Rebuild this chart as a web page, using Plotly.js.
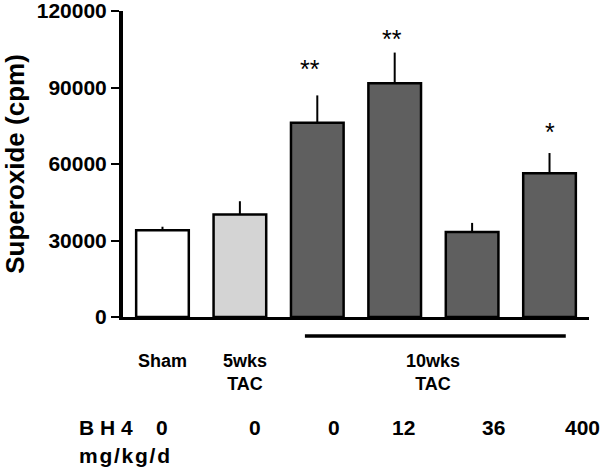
<!DOCTYPE html>
<html>
<head>
<meta charset="utf-8">
<script src="https://cdn.plot.ly/plotly-3.0.1.min.js"></script>
<style>html,body{margin:0;padding:0;background:#fff;}#chart{width:600px;height:468px;}</style>
</head>
<body>
<div id="chart"></div>
<script>
// ---- data ----
const groups = [0, 1, 2, 3, 4, 5];
const superoxide = [34000, 40200, 76200, 91700, 33300, 56400];
const sem = [1400, 5200, 10700, 12000, 3600, 7900];
const barColors = ['#ffffff', '#d4d4d4', '#5f5f5f', '#5f5f5f', '#5f5f5f', '#5f5f5f'];
const significance = ['', '', '**', '**', '', '*'];
const groupLabels = ['Sham', '5wks<br>TAC', '10wks<br>TAC'];
const bh4Doses = ['0', '0', '0', '12', '36', '400'];
const yTicks = [0, 30000, 60000, 90000, 120000];

const FONT = 'Liberation Sans, Arial, Helvetica, sans-serif';
const b = s => '<b>' + s + '</b>';
const HS = '\u200A';

const trace = {
  type: 'bar',
  x: groups,
  y: superoxide,
  marker: { color: barColors, line: { color: '#000', width: 2.5 } },
  error_y: {
    type: 'data', symmetric: false, array: sem,
    arrayminus: sem.map(() => 0),
    color: '#000', thickness: 2, width: 0
  },
  hoverinfo: 'skip'
};

const annotations = [];
// significance stars (pixel offsets are styling only)
const starYShift = [0, 0, 26, 14, 0, 21];
const starXShift = [0, 0, -7, -3, 0, 0];
groups.forEach((g, i) => {
  if (significance[i]) {
    annotations.push({
      x: g, y: superoxide[i] + sem[i], xref: 'x', yref: 'y',
      text: significance[i], showarrow: false, yanchor: 'middle',
      yshift: starYShift[i], xshift: starXShift[i],
      font: { family: FONT, size: 25, color: '#000' }
    });
  }
});
// group labels
const groupPos = [0, 1.07, 3.5];
groupLabels.forEach((t, i) => {
  annotations.push({
    x: groupPos[i], y: -0.105, xref: 'x', yref: 'paper', yanchor: 'top',
    text: b(t), showarrow: false,
    font: { family: FONT, size: 18, color: '#000' }
  });
});
// BH4 doses
const dosePos = [-0.01, 1.19, 2.21, 3.11, 4.27, 5.43];
bh4Doses.forEach((t, i) => {
  annotations.push({
    x: dosePos[i], y: -0.36, xref: 'x', yref: 'paper', yanchor: 'middle',
    text: b(t), showarrow: false,
    font: { family: FONT, size: 21, color: '#000' }
  });
});
annotations.push({
  x: -0.099, y: -0.36, xref: 'paper', yref: 'paper', xanchor: 'left', yanchor: 'middle',
  text: b('B H 4'), showarrow: false,
  font: { family: FONT, size: 21, color: '#000' }
});
annotations.push({
  x: -0.099, y: -0.452, xref: 'paper', yref: 'paper', xanchor: 'left', yanchor: 'middle',
  text: b('mg/kg/d'.split('').join(HS)), showarrow: false,
  font: { family: FONT, size: 21, color: '#000' }
});

const layout = {
  width: 600, height: 468,
  margin: { l: 123, r: 11, t: 11, b: 151 },
  paper_bgcolor: '#fff', plot_bgcolor: '#fff',
  showlegend: false,
  bargap: 0.32,
  xaxis: {
    range: [-0.51, 5.51], showticklabels: false, ticks: '',
    showgrid: false, zeroline: false,
    showline: true, linecolor: '#000', linewidth: 2.5
  },
  yaxis: {
    range: [0, 120000], tickvals: yTicks, ticktext: yTicks.map(v => b(String(v))),
    ticks: 'outside', ticklen: 8, tickwidth: 2, tickcolor: '#000',
    ticklabeloverflow: 'allow',
    showgrid: false, zeroline: false,
    showline: true, linecolor: '#000', linewidth: 4,
    tickfont: { family: FONT, size: 21, color: '#000' },
    title: { text: b('Superoxide (cpm)'), standoff: 26,
      font: { family: FONT, size: 26, color: '#000' } }
  },
  shapes: [{
    type: 'line', xref: 'x', yref: 'paper',
    x0: 1.84, x1: 5.21, y0: -0.062, y1: -0.062,
    line: { color: '#000', width: 3.5 }
  }],
  annotations: annotations
};

Plotly.newPlot('chart', [trace], layout, { displayModeBar: false, staticPlot: true });
</script>
</body>
</html>
